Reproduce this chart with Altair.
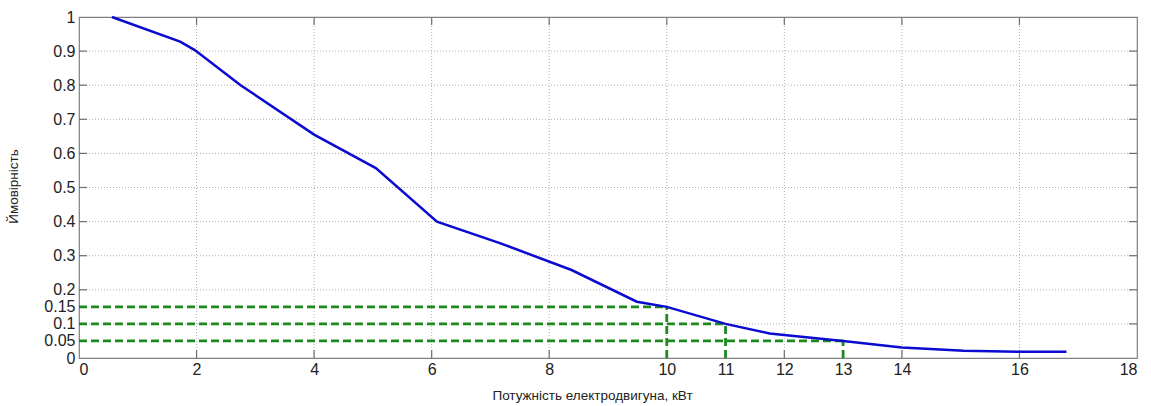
import altair as alt
import pandas as pd

# Curve (power, kW -> probability)
power = [0.56, 1.72, 1.97, 2.75, 4.0, 5.05, 6.09, 7.16, 8.38, 9.49, 10.0, 11.0, 11.75, 13.0, 14.0, 15.05, 16.0, 16.8]
prob = [1.0, 0.928, 0.903, 0.80, 0.655, 0.557, 0.40, 0.337, 0.258, 0.165, 0.15, 0.10, 0.072, 0.05, 0.031, 0.021, 0.018, 0.018]

# Guide lines (green dashed)
guide_x = [10, 11, 13]
guide_y = [0.15, 0.10, 0.05]

x_tick_labels = [0, 2, 4, 6, 8, 10, 11, 12, 13, 14, 16, 18]
y_tick_labels = [0, 0.05, 0.1, 0.15, 0.2, 0.3, 0.4, 0.5, 0.6, 0.7, 0.8, 0.9, 1]
x_grid = [2, 4, 6, 8, 10, 12, 14, 16]
y_grid = [0.1, 0.2, 0.3, 0.4, 0.5, 0.6, 0.7, 0.8, 0.9]
x_ticks = [2, 4, 6, 8, 10, 12, 14, 16]
y_ticks = [0.1, 0.2, 0.3, 0.4, 0.5, 0.6, 0.7, 0.8, 0.9]

W, H = 1058, 341
LFONT = "Liberation Sans"
TFONT = "Liberation Sans"

curve_df = pd.DataFrame({"x": power, "y": prob})
guide_h = pd.DataFrame({"x": [0] * 3, "x1": guide_x, "y": guide_y})
guide_v = pd.DataFrame({"x": guide_x, "y": [0] * 3, "y1": guide_y})

xscale = alt.Scale(domain=[0, 18], nice=False, zero=False)
yscale = alt.Scale(domain=[0, 1], nice=False, zero=False)

xaxis = alt.Axis(values=x_tick_labels, grid=False, ticks=False, domain=False,
                 format=".3~g", labelOverlap=False,
                 labelFontSize=16, labelFont=LFONT, labelColor="#222", labelPadding=3,
                 title="Потужність електродвигуна, кВт", titleFont=TFONT, titleFontSize=13.5,
                 titleFontWeight="normal", titleColor="#222", titleX=513, titleY=41,
                 titleBaseline="alphabetic")
yaxis = alt.Axis(values=y_tick_labels, grid=False, ticks=False, domain=False,
                 format=".3~g", labelOverlap=False, labelFontSize=16, labelFont=LFONT,
                 labelColor="#222", labelPadding=4,
                 title="Ймовірність", titleFont=TFONT, titleFontSize=13.5,
                 titleFontWeight="normal", titleColor="#222", titleX=-59, titleY=169)


def X(field):
    return alt.X(field, scale=xscale, axis=xaxis)


def Y(field):
    return alt.Y(field, scale=yscale, axis=yaxis)


grid_color = "#b0b0b0"
vgrid = alt.Chart(pd.DataFrame({"x": x_grid})).mark_rule(
    color=grid_color, strokeDash=[1, 2], strokeWidth=1
).encode(x=X("x:Q"))
hgrid = alt.Chart(pd.DataFrame({"y": y_grid})).mark_rule(
    color=grid_color, strokeDash=[1, 2], strokeWidth=1
).encode(y=Y("y:Q"))

tick_color = "#707070"
xt = pd.DataFrame({"x": x_ticks})
yt = pd.DataFrame({"y": y_ticks})
bottom_ticks = alt.Chart(xt).mark_rule(color=tick_color, strokeWidth=1.2).encode(
    x=X("x:Q"), y=alt.value(H), y2=alt.value(H - 8))
top_ticks = alt.Chart(xt).mark_rule(color=tick_color, strokeWidth=1.2).encode(
    x=X("x:Q"), y=alt.value(0), y2=alt.value(8))
left_ticks = alt.Chart(yt).mark_rule(color=tick_color, strokeWidth=1.2).encode(
    y=Y("y:Q"), x=alt.value(0), x2=alt.value(8))
right_ticks = alt.Chart(yt).mark_rule(color=tick_color, strokeWidth=1.2).encode(
    y=Y("y:Q"), x=alt.value(W), x2=alt.value(W - 8))

green = "#1e8a1e"
gh = alt.Chart(guide_h).mark_rule(color=green, strokeWidth=2.8, strokeDash=[8, 4]).encode(
    x=X("x:Q"), x2="x1:Q", y=Y("y:Q"))
gv = alt.Chart(guide_v).mark_rule(color=green, strokeWidth=2.8, strokeDash=[8, 4]).encode(
    x=X("x:Q"), y=Y("y:Q"), y2="y1:Q")

line = alt.Chart(curve_df).mark_line(color="#0a0ad0", strokeWidth=2.5).encode(
    x=X("x:Q"), y=Y("y:Q"))

chart = alt.layer(
    vgrid, hgrid, bottom_ticks, top_ticks, left_ticks, right_ticks, gh, gv, line
).properties(
    width=W, height=H,
    autosize=alt.AutoSizeParams(type="none"),
    padding={"left": 79, "top": 17, "right": 14, "bottom": 48},
    background="white",
).configure_view(
    stroke="#808080", strokeWidth=1.2
)

chart.save("out.html", embed_options={"renderer": "svg", "actions": False})
